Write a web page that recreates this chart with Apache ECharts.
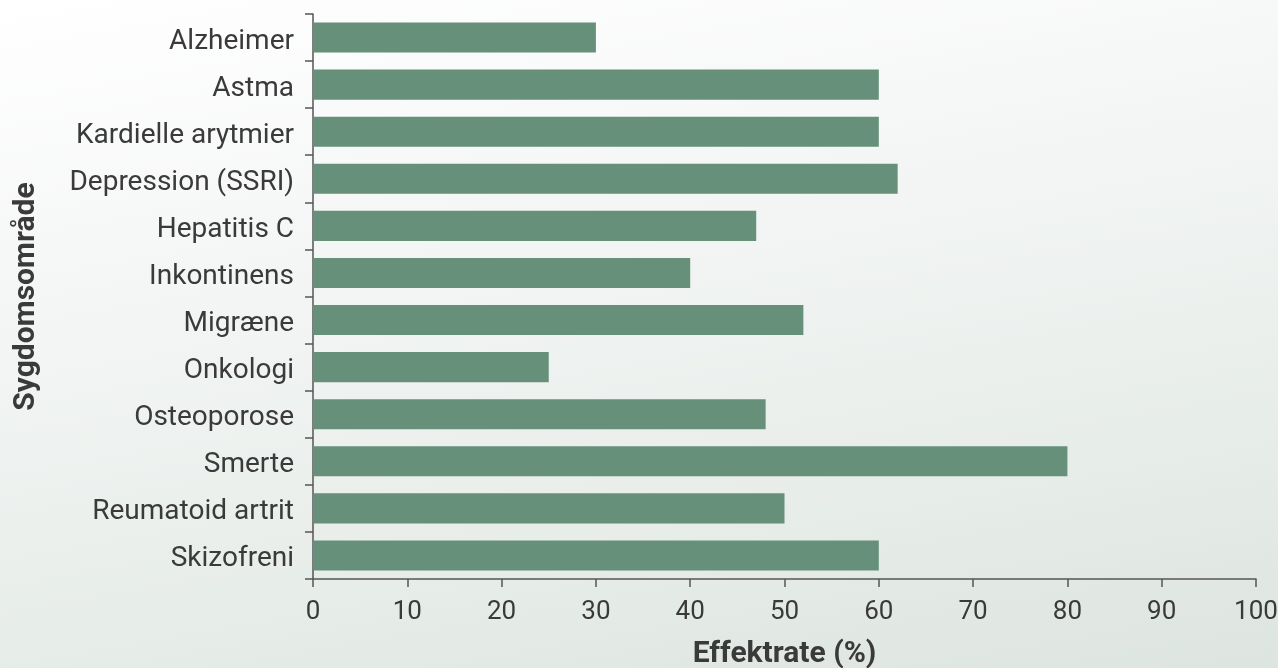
<!DOCTYPE html>
<html>
<head>
<meta charset="utf-8">
<script src="https://cdn.jsdelivr.net/npm/echarts@6/dist/echarts.min.js"></script>
<style>
  html, body { margin: 0; padding: 0; }
  body {
    width: 1278px; height: 668px;
    background: linear-gradient(170deg, #ffffff 0%, #f4f6f5 35%, #e6ece8 75%, #dde5e0 100%);
  }
  #chart { width: 1278px; height: 668px; }
</style>
</head>
<body>
<div id="chart"></div>
<script>
  // sygdomsområder, øverst først
  const categories = ['Alzheimer', 'Astma', 'Kardielle arytmier', 'Depression (SSRI)', 'Hepatitis C',
    'Inkontinens', 'Migræne', 'Onkologi', 'Osteoporose', 'Smerte', 'Reumatoid artrit', 'Skizofreni']
  const effektrate = [30, 60, 60, 62, 47, 40, 52, 25, 48, 80, 50, 60]
  const xTicks = [0, 100, 10] // min, max, interval

  const axisColor = '#555'
  const textColor = '#3a3a3a'

  const chart = echarts.init(document.getElementById('chart'))
  chart.setOption({
    backgroundColor: 'transparent',
    animation: false,
    grid: { left: 313, right: 22, top: 14, bottom: 89, outerBoundsMode: 'none' },
    xAxis: {
      type: 'value',
      min: xTicks[0],
      max: xTicks[1],
      interval: xTicks[2],
      name: 'Effektrate (%)',
      nameLocation: 'middle',
      nameGap: 60,
      nameTextStyle: { fontFamily: 'Roboto', fontWeight: 'bold', fontSize: 30, color: textColor },
      axisLine: { show: true, lineStyle: { color: axisColor, width: 1.5 } },
      axisTick: { show: true, length: 8, lineStyle: { color: axisColor, width: 1.5 } },
      axisLabel: { fontFamily: 'Roboto', fontSize: 26, color: textColor, margin: 20 },
      splitLine: { show: false }
    },
    yAxis: {
      type: 'category',
      data: categories,
      inverse: true,
      name: 'Sygdomsområde',
      nameLocation: 'middle',
      nameRotate: 90,
      nameGap: 272,
      nameTextStyle: { fontFamily: 'Roboto', fontWeight: 'bold', fontSize: 30, color: textColor },
      axisLine: { show: true, lineStyle: { color: axisColor, width: 1.5 } },
      axisTick: { show: true, length: 8, lineStyle: { color: axisColor, width: 1.5 } },
      // labels sit a little below the bar centre in the original
      axisLabel: { fontFamily: 'Roboto', fontSize: 28, color: textColor, margin: 19, verticalAlign: 'top', lineHeight: 8 }
    },
    series: [{
      type: 'bar',
      data: effektrate,
      barCategoryGap: '36%',
      itemStyle: { color: '#66907a' }
    }]
  })
</script>
</body>
</html>
